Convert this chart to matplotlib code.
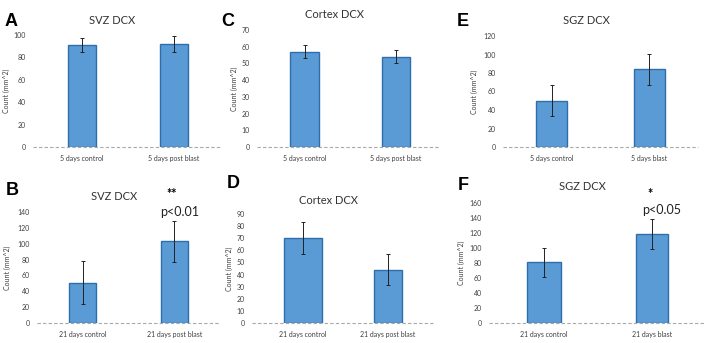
import matplotlib.pyplot as plt

# DCX counts per region / time point (mean and error)
labels_5d = ["5 days control", "5 days post blast"]
labels_5d_sgz = ["5 days control", "5 days blast"]
labels_21d = ["21 days control", "21 days post blast"]
labels_21d_sgz = ["21 days control", "21 days blast"]

svz_5d = [91, 92]
svz_5d_err = [6, 7]
cortex_5d = [57, 54]
cortex_5d_err = [4, 4]
sgz_5d = [50, 84]
sgz_5d_err = [17, 17]

svz_21d = [51, 103]
svz_21d_err = [27, 26]
cortex_21d = [70, 44]
cortex_21d_err = [13, 13]
sgz_21d = [81, 119]
sgz_21d_err = [19, 20]

W, H = 706, 343
BAR = "#5b9bd5"
EDGE = "#2f6eac"
FONT = "Lato"
GREY = "#404040"

fig = plt.figure(figsize=(W / 100, H / 100), dpi=100)


def panel(box, xlim, widths, vals, errs, names, title, ymax, step, letter, letter_xy,
          title_y, ylab_x, star=None):
    # box given in pixels: left, right, top (ymax), bottom (zero line)
    l, r, t, b = box
    ax = fig.add_axes([l / W, 1 - b / H, (r - l) / W, (b - t) / H])
    ax.bar([0, 1], vals, width=widths, color=BAR, edgecolor=EDGE, linewidth=1.0, zorder=2)
    ax.errorbar([0, 1], vals, yerr=errs, fmt="none", ecolor="#222222",
                elinewidth=0.7, capsize=1.5, capthick=0.7, zorder=3)
    ax.axhline(0, color="#a8a8a8", lw=0.8, ls=(0, (3, 2)), zorder=1, clip_on=False)
    ax.set_xlim(*xlim)
    ax.set_ylim(0, ymax)
    ax.set_yticks(range(0, ymax + 1, step))
    ax.set_xticks([0, 1])
    ax.set_xticklabels(names, fontsize=5, family=FONT, color=GREY)
    for lab in ax.get_yticklabels():
        lab.set_fontsize(5)
        lab.set_family(FONT)
        lab.set_color(GREY)
    ax.tick_params(length=0, pad=5)
    ax.tick_params(axis="x", pad=6)
    for s in ax.spines.values():
        s.set_visible(False)
    ax.set_ylabel("Count (mm^2)", fontsize=5, family=FONT, color=GREY)
    ax.yaxis.set_label_coords((ylab_x - l) / (r - l), 0.5)
    ax.patch.set_alpha(0)
    fig.text((l + r) / 2 / W - 0.02, 1 - title_y / H, title, fontsize=8, family=FONT,
             ha="center", va="center", color="#333333")
    fig.text(letter_xy[0] / W, 1 - letter_xy[1] / H, letter, fontsize=13, weight="bold",
             family="Liberation Sans", ha="center", va="center")
    if star:
        sym, sx, sy, ptxt, px, py = star
        fig.text(sx / W, 1 - sy / H, sym, fontsize=9, weight="bold", family=FONT,
                 ha="center", va="center")
        fig.text(px / W, 1 - py / H, ptxt, fontsize=9, family=FONT,
                 ha="center", va="center", color="#222222")
    return ax


panel((33, 220, 35, 147), (-0.53, 1.5), 0.30, svz_5d, svz_5d_err, labels_5d,
      "SVZ DCX", 100, 20, "A", (11, 21), 20, 10)
panel((257, 440, 30, 147), (-0.52, 1.48), 0.31, cortex_5d, cortex_5d_err, labels_5d,
      "Cortex DCX", 70, 10, "C", (228, 21), 15, 238)
panel((503, 698, 36, 147), (-0.5, 1.5), 0.32, sgz_5d, sgz_5d_err, labels_5d_sgz,
      "SGZ DCX", 120, 20, "E", (463, 21), 20, 478)

panel((37, 220, 212, 323), (-0.5, 1.5), 0.30, svz_21d, svz_21d_err, labels_21d,
      "SVZ DCX", 140, 20, "B", (12, 190), 197, 11,
      star=("**", 172, 194, "p<0.01", 180, 212))
panel((252, 433, 214, 323), (-0.6, 1.53), [0.44, 0.33], cortex_21d, cortex_21d_err,
      labels_21d, "Cortex DCX", 90, 10, "D", (233, 183), 200, 233)
panel((489, 705, 203, 323), (-0.51, 1.49), [0.32, 0.29], sgz_21d, sgz_21d_err,
      labels_21d_sgz, "SGZ DCX", 160, 20, "F", (463, 186), 187, 465,
      star=("*", 650, 194, "p<0.05", 662, 210))

fig.savefig("out.png", dpi=100, facecolor="white")
